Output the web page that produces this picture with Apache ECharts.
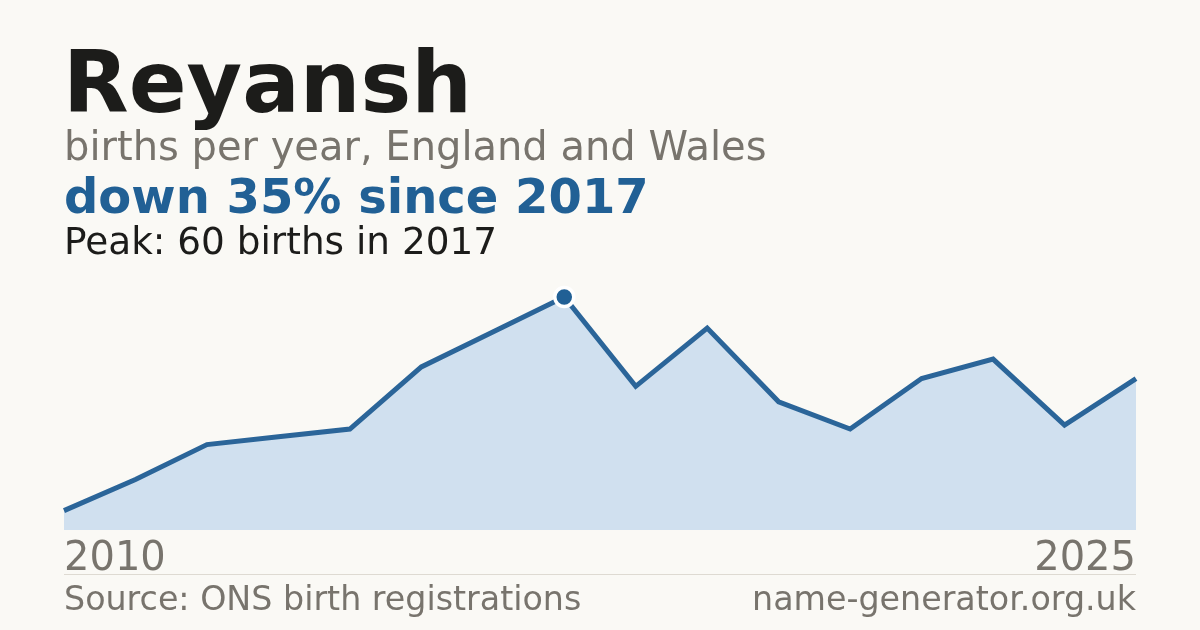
<!DOCTYPE html>
<html>
<head>
<meta charset="utf-8">
<script src="https://cdn.jsdelivr.net/npm/echarts@6/dist/echarts.min.js"></script>
<style>
html,body{margin:0;padding:0;background:#faf9f5;}
#c{width:1200px;height:630px;}
</style>
</head>
<body>
<div id="c"></div>
<script>
const years = ['2010','2011','2012','2013','2014','2015','2016','2017','2018','2019','2020','2021','2022','2023','2024','2025'];
const births = [5,13,22,24,26,42,51,60,37,52,33,26,39,44,27,39];
const titleText = 'Reyansh';
const subtitleText = 'births per year, England and Wales';
const changeText = 'down 35% since 2017';
const peakText = 'Peak: 60 births in 2017';
const sourceText = 'Source: ONS birth registrations';
const siteText = 'name-generator.org.uk';

const FONT = 'DejaVu Sans';
const chart = echarts.init(document.getElementById('c'));
const lastIdx = years.length - 1;
chart.setOption({
  backgroundColor: '#faf9f5',
  animation: false,
  title: [
    {text: titleText, left: 63, top: 47, padding: 0,
     textStyle: {fontFamily: FONT, fontSize: 85.3, fontWeight: 'bold', color: '#1c1c1a', lineHeight: 85}},
    {text: subtitleText, left: 64, top: 130, padding: 0,
     textStyle: {fontFamily: FONT, fontSize: 40, fontWeight: 'normal', color: '#78746d', lineHeight: 40}},
    {text: changeText, left: 64, top: 177, padding: 0,
     textStyle: {fontFamily: FONT, fontSize: 48, fontWeight: 'bold', color: '#216095', lineHeight: 48}},
    {text: peakText, left: 64, top: 226, padding: 0,
     textStyle: {fontFamily: FONT, fontSize: 37.4, fontWeight: 'normal', color: '#1c1c1a', lineHeight: 37.5}},
    {text: sourceText, left: 64, top: 585, padding: 0,
     textStyle: {fontFamily: FONT, fontSize: 33.3, fontWeight: 'normal', color: '#78746d', lineHeight: 33}},
    {text: siteText, right: 64, top: 585, padding: 0,
     textStyle: {fontFamily: FONT, fontSize: 33.3, fontWeight: 'normal', color: '#78746d', lineHeight: 33}}
  ],
  graphic: [
    {type: 'line', shape: {x1: 64, y1: 574.5, x2: 1136, y2: 574.5},
     style: {stroke: '#dedad2', lineWidth: 1}, silent: true}
  ],
  grid: {left: 64, right: 64, top: 297, bottom: 100},
  xAxis: {
    type: 'category', data: years, boundaryGap: false,
    axisLine: {show: false}, axisTick: {show: false}, splitLine: {show: false},
    axisLabel: {
      show: true, margin: 10,
      interval: function (i) { return i === 0 || i === lastIdx; },
      alignMinLabel: 'left', alignMaxLabel: 'right',
      fontFamily: FONT, fontSize: 40, color: '#78746d', lineHeight: 40
    }
  },
  yAxis: {
    type: 'value', min: 0, max: 60, show: false, splitLine: {show: false}
  },
  series: [{
    type: 'line', data: births, showSymbol: false, symbol: 'none',
    lineStyle: {color: '#2b6599', width: 5, join: 'miter'},
    areaStyle: {color: '#d0e0ef', opacity: 1},
    z: 2,
    markPoint: {
      data: [{type: 'max'}],
      symbol: 'circle', symbolSize: 19,
      itemStyle: {color: '#216095', borderColor: '#ffffff', borderWidth: 3.5},
      label: {show: false}
    }
  }]
});
</script>
</body>
</html>
